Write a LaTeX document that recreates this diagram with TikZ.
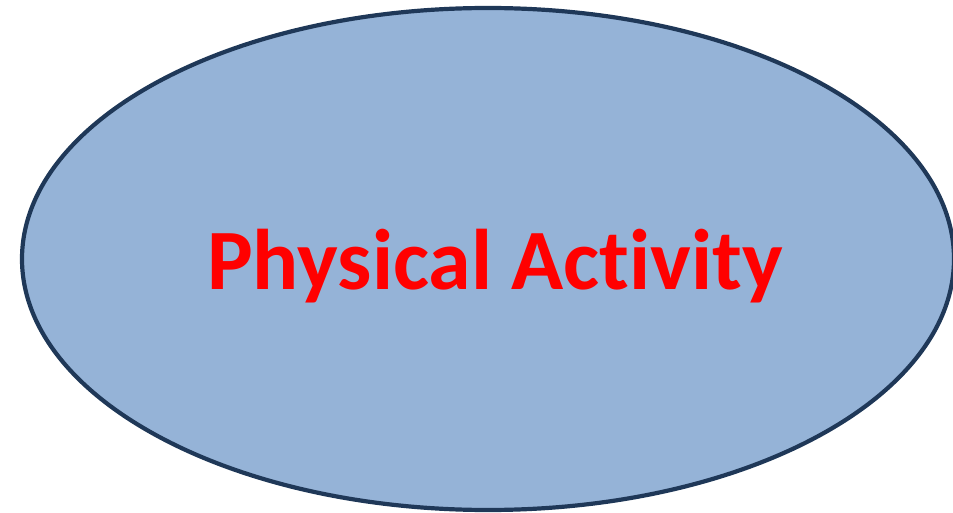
\documentclass[tikz,border=0pt]{standalone}
\usepackage{fontspec}
\setmainfont[Ligatures=NoCommon]{Carlito}
\definecolor{fillblue}{HTML}{95B3D7}
\definecolor{edgenavy}{HTML}{1F3858}
\definecolor{textred}{HTML}{FF0000}
\begin{document}
\begin{tikzpicture}[x=1pt,y=-1pt]
\useasboundingbox (0,0) rectangle (953,513);
\tikzset{blob/.style={fill=fillblue,draw=edgenavy,line width=4.2pt}}
\clip (0,0) rectangle (953,513);
\draw[blob] (488,259) ellipse [x radius=466, y radius=251];
\node (pa) at (495,266) {\fontsize{86}{100}\selectfont\bfseries\color{textred}Physical Activity};
\end{tikzpicture}
\end{document}
